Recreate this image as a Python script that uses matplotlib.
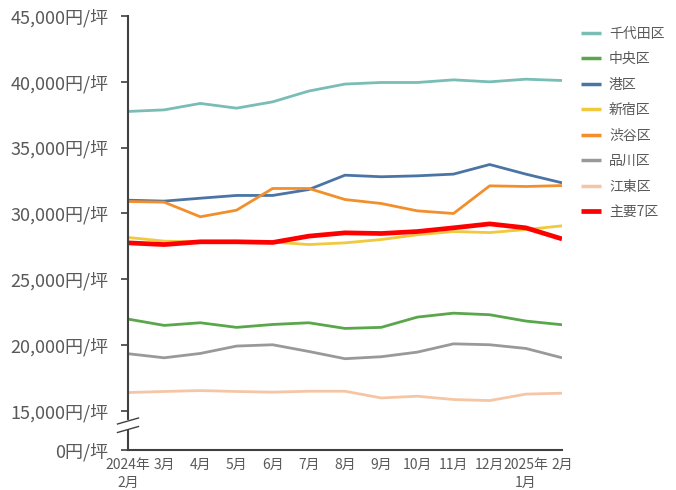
import matplotlib.pyplot as plt
import numpy as np

plt.rcParams['font.family'] = ['Noto Sans CJK JP', 'DejaVu Sans']

months = ['2024年\n2月', '3月', '4月', '5月', '6月', '7月', '8月', '9月',
          '10月', '11月', '12月', '2025年\n1月', '2月']

chiyoda = [37750, 37870, 38360, 38000, 38480, 39300, 39830, 39950, 39950, 40150, 40000, 40200, 40100]
chuo = [21980, 21500, 21700, 21350, 21570, 21700, 21270, 21350, 22130, 22430, 22310, 21830, 21550]
minato = [31010, 30940, 31160, 31370, 31370, 31820, 32910, 32790, 32860, 32990, 33720, 32990, 32330]
shinjuku = [28180, 27900, 27850, 27830, 27830, 27640, 27770, 28020, 28380, 28630, 28550, 28780, 29060]
shibuya = [30910, 30860, 29750, 30250, 31900, 31900, 31060, 30760, 30200, 30000, 32100, 32050, 32120]
shinagawa = [19350, 19040, 19370, 19930, 20030, 19520, 18970, 19120, 19470, 20100, 20030, 19750, 19040]
koto = [16400, 16480, 16550, 16480, 16430, 16500, 16500, 15990, 16120, 15870, 15790, 16280, 16350]
major7 = [27770, 27640, 27850, 27850, 27800, 28280, 28530, 28480, 28630, 28910, 29210, 28910, 28070]

series = [
    ('千代田区', chiyoda, '#79bdb5', 2.0),
    ('中央区', chuo, '#5aa64b', 2.0),
    ('港区', minato, '#4b74a5', 2.0),
    ('新宿区', shinjuku, '#f0c93f', 2.0),
    ('渋谷区', shibuya, '#f28f2c', 2.0),
    ('品川区', shinagawa, '#999999', 2.0),
    ('江東区', koto, '#f5c6a6', 2.0),
    ('主要7区', major7, '#ff0000', 3.4),
]

yticks = [0, 15000, 20000, 25000, 30000, 35000, 40000, 45000]

# squeeze 0-15000 into a short stretch below the break
K = 0.1976
BREAK = 15000


def fwd(v):
    v = np.asarray(v, dtype=float)
    return np.where(v >= BREAK, v, BREAK - (BREAK - v) * K)


def inv(u):
    u = np.asarray(u, dtype=float)
    return np.where(u >= BREAK, u, BREAK - (BREAK - u) / K)


fig = plt.figure(figsize=(6.76, 4.9), dpi=100)
ax = fig.add_axes([128 / 676, 40 / 490, (562 - 128) / 676, (450 - 16) / 490])
ax.set_yscale('function', functions=(fwd, inv))

x = np.arange(len(months))
for name, vals, color, lw in series:
    ax.plot(x, vals, color=color, lw=lw, label=name, solid_capstyle='butt')

ax.set_xlim(0, len(months) - 1)
ax.set_ylim(0, 45000)
ax.set_yticks(yticks)
ax.set_yticklabels([f'{v:,}円/坪' for v in yticks])
ax.yaxis.set_minor_locator(plt.NullLocator())
ax.set_xticks(x)
ax.set_xticklabels(months)

txt = '#595959'
axis_c = '#404040'
ax.tick_params(axis='y', labelsize=13, colors=axis_c, labelcolor=txt, length=5, width=1.2, pad=9)
ax.tick_params(axis='x', labelsize=10, labelcolor=txt, length=0, pad=6)
for lbl in ax.get_xticklabels():
    lbl.set_linespacing(1.3)

for s in ['top', 'right']:
    ax.spines[s].set_visible(False)
for s in ['left', 'bottom']:
    ax.spines[s].set_color(axis_c)
    ax.spines[s].set_linewidth(1.5)

# break marks on the y axis (axes coordinates)
h = 434.0
w = 434.0
dx = 10.5 / w
dy = 3.0 / h
ax.plot([0, 0], [(450 - 427) / h, (450 - 422) / h], transform=ax.transAxes,
        color='white', lw=3, clip_on=False, zorder=4)
for yc in ((450 - 421) / h, (450 - 429.5) / h):
    ax.plot([-dx, dx], [yc - dy, yc + dy], transform=ax.transAxes,
            color=axis_c, lw=1.0, clip_on=False, zorder=5)

leg = ax.legend(loc='upper left', bbox_to_anchor=(568 / 676, 1 - 14 / 490),
                bbox_transform=fig.transFigure, frameon=False, fontsize=10,
                handlelength=1.45, labelspacing=0.83, handletextpad=0.6)
for t in leg.get_texts():
    t.set_color(txt)
for hl in leg.get_lines():
    hl.set_linewidth(2.5)
    if hl.get_label() == '主要7区':
        hl.set_linewidth(3.4)

fig.savefig('out.png', dpi=100)
